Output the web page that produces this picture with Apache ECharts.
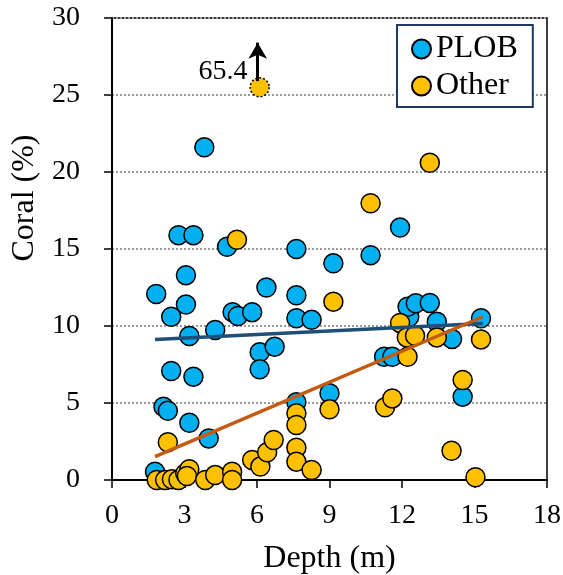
<!DOCTYPE html>
<html>
<head>
<meta charset="utf-8">
<script src="https://cdn.jsdelivr.net/npm/echarts@6/dist/echarts.min.js"></script>
<style>
  html, body { margin: 0; padding: 0; background: #fff; }
  #chart { width: 563px; height: 575px; }
</style>
</head>
<body>
<div id="chart"></div>
<script>
// depth (m), coral cover (%)
const plobData = [
  [1.78, 0.54], [1.83, 12.08], [2.13, 4.76], [2.31, 4.5], [2.45, 10.6], [2.45, 7.08],
  [2.75, 15.9], [3.06, 13.3], [3.06, 11.4], [3.2, 9.35], [3.2, 3.72], [3.37, 15.9],
  [3.37, 6.71], [3.82, 21.6], [4.0, 2.7], [4.27, 9.74], [4.76, 15.15], [4.99, 10.9],
  [5.21, 10.65], [5.8, 10.9], [6.11, 8.29], [6.11, 7.19], [6.39, 12.5], [6.73, 8.66],
  [7.63, 15.0], [7.63, 12.0], [7.63, 10.5], [7.63, 5.05], [8.26, 10.4], [9.0, 5.63],
  [9.16, 14.07], [10.7, 14.6], [11.26, 8.0], [11.6, 8.0], [11.92, 16.4], [12.3, 10.6],
  [12.23, 11.25], [12.57, 11.47], [13.15, 11.5], [13.44, 10.28], [14.07, 9.16],
  [14.51, 5.41], [15.27, 10.5]
]
const otherData = [
  [1.85, 0], [2.2, 0], [2.48, 0.05], [2.75, 0], [3.03, 0.43], [3.2, 0.7], [3.1, 0.26],
  [3.86, 0], [4.27, 0.32], [4.97, 0.54], [4.97, 0], [2.31, 2.45], [5.17, 15.6],
  [5.8, 1.3], [6.14, 0.87], [6.42, 1.8], [6.69, 2.6], [7.63, 4.33], [7.63, 3.57],
  [7.63, 2.1], [7.63, 1.19], [8.26, 0.65], [9.0, 4.59], [9.16, 11.58], [10.7, 17.97],
  [11.3, 4.72], [11.6, 5.3], [11.92, 10.2], [12.23, 8.0], [12.2, 9.26], [12.54, 9.37],
  [13.15, 20.6], [13.44, 9.26], [14.05, 1.9], [14.51, 6.49], [15.04, 0.18], [15.27, 9.13]
]
// off-scale point (real value 65.4), drawn at the top with an arrow
const outlierPoint = [[6.11, 25.5]]
const outlierLabel = '65.4'
const outlierArrow = [[6.03, 25.9], [6.03, 28.4]]

// linear fits
const plobFit = [[1.78, 9.13], [15.34, 10.17]]
const otherFit = [[1.78, 1.52], [15.34, 10.6]]

const seriesNames = ['PLOB', 'Other']
const FONT = '"Liberation Serif", "Times New Roman", serif'

const chart = echarts.init(document.getElementById('chart'))

chart.setOption({
  animation: false,
  backgroundColor: '#fff',
  textStyle: { fontFamily: FONT, color: '#000' },
  grid: {
    left: 112, right: 16, top: 18, bottom: 95,
    outerBoundsMode: 'none', containLabel: false,
    show: true, borderColor: '#000', borderWidth: 1.5,
  },
  legend: {
    data: seriesNames,
    orient: 'vertical',
    left: 397, top: 25,
    padding: [8, 15, 5, 14],
    itemWidth: 19, itemHeight: 19, itemGap: 5, itemTextGap: 26,
    backgroundColor: '#fff',
    borderColor: '#1F3864', borderWidth: 2,
    textStyle: { fontFamily: FONT, fontSize: 32, color: '#000' },
  },
  xAxis: {
    type: 'value', min: 0, max: 18, interval: 3,
    name: 'Depth (m)', nameLocation: 'middle', nameGap: 63,
    nameTextStyle: { fontFamily: FONT, fontSize: 32, color: '#000' },
    axisLine: { lineStyle: { color: '#000', width: 2 } },
    axisTick: { show: true, length: 8, lineStyle: { color: '#000', width: 1.5 } },
    axisLabel: { fontFamily: FONT, fontSize: 28, color: '#000', margin: 22 },
    splitLine: { show: false },
  },
  yAxis: {
    type: 'value', min: 0, max: 30, interval: 5,
    axisLine: { show: true, lineStyle: { color: '#000', width: 2 } },
    axisTick: { show: true, length: 8, lineStyle: { color: '#000', width: 1.5 } },
    axisLabel: { fontFamily: FONT, fontSize: 28, color: '#000', margin: 32 },
    splitLine: { show: true, lineStyle: { color: '#9a9a9a', width: 2, type: [2, 2] } },
  },
  graphic: [{
    type: 'text', x: 25, y: 198, rotation: Math.PI / 2,
    style: {
      text: 'Coral (%)', font: '32px ' + FONT, fill: '#000',
      align: 'center', verticalAlign: 'middle',
    },
  }],
  series: [
    {
      name: 'PLOB', type: 'scatter', data: plobData,
      symbol: 'circle', symbolSize: 19,
      itemStyle: { color: '#00B0F0', borderColor: '#000', borderWidth: 1.5, opacity: 1 },
      z: 2,
    },
    {
      name: 'Other', type: 'scatter', data: otherData,
      symbol: 'circle', symbolSize: 19,
      itemStyle: { color: '#FFC000', borderColor: '#000', borderWidth: 1.5, opacity: 1 },
      z: 3,
    },
    {
      name: 'outlier', type: 'scatter', data: outlierPoint,
      symbol: 'circle', symbolSize: 19,
      itemStyle: { color: '#FFC000', borderColor: '#000', borderWidth: 1.5, borderType: [2, 2], opacity: 1 },
      label: {
        show: true, formatter: outlierLabel, position: 'left', distance: 2, offset: [0, -16],
        fontFamily: FONT, fontSize: 28, color: '#000', opacity: 1,
      },
      markLine: {
        silent: true, symbol: ['none', 'arrow'], symbolSize: [14, 16],
        lineStyle: { color: '#000', width: 3, type: 'solid' },
        label: { show: false },
        data: [[{ coord: outlierArrow[0] }, { coord: outlierArrow[1] }]],
      },
      z: 3,
    },
    {
      name: 'PLOB fit', type: 'line', data: plobFit, symbol: 'none',
      lineStyle: { color: '#1F4E79', width: 3.5 }, z: 4,
    },
    {
      name: 'Other fit', type: 'line', data: otherFit, symbol: 'none',
      lineStyle: { color: '#C55A11', width: 3.5 }, z: 4,
    },
  ],
})
</script>
</body>
</html>
